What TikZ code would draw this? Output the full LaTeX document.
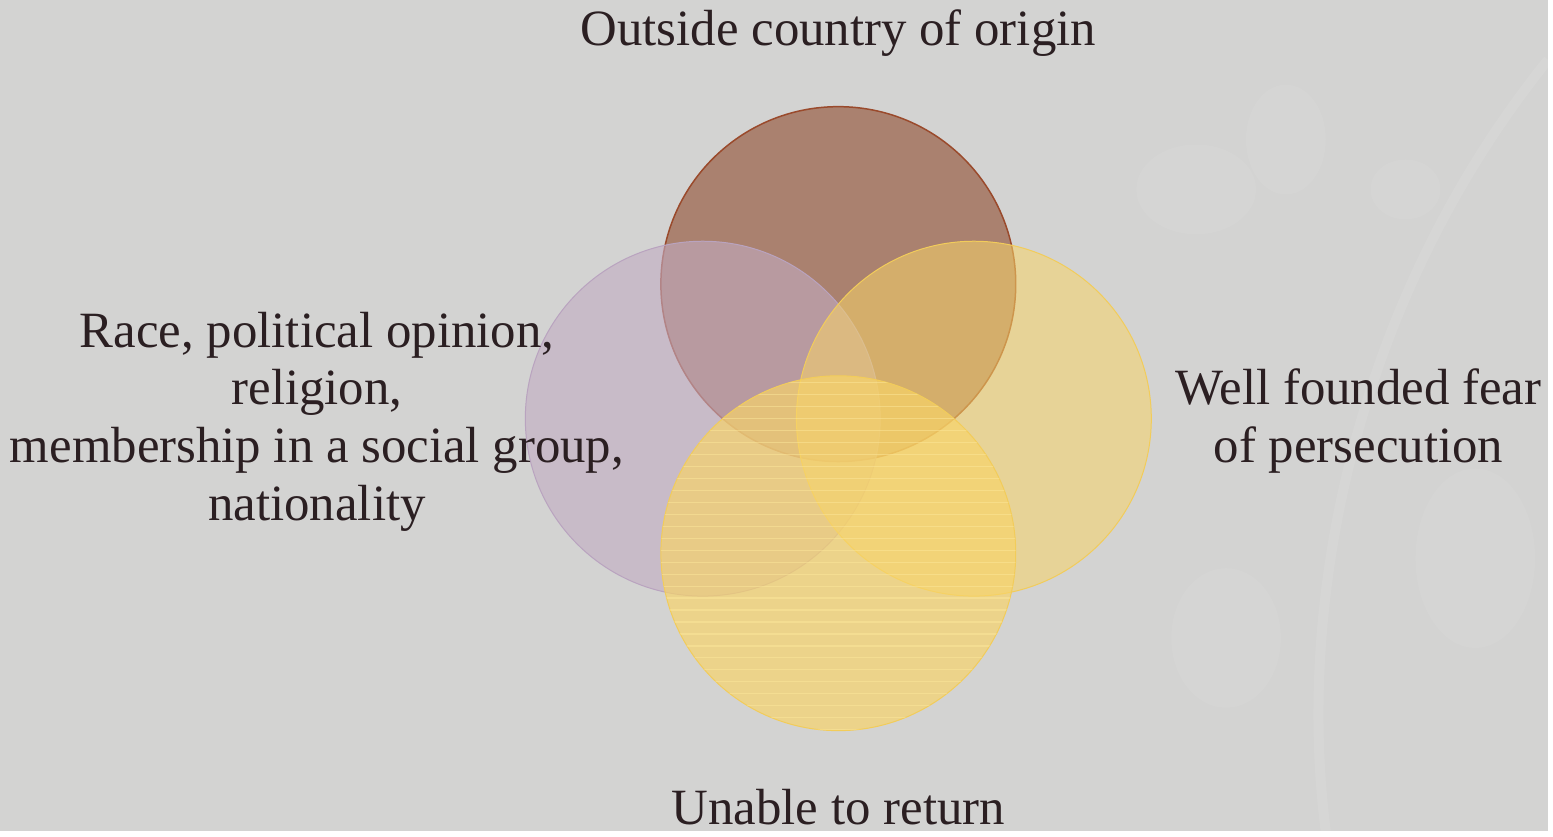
\documentclass[tikz,border=0pt]{standalone}
\usepackage{fontspec}
\setmainfont{Liberation Serif}
\usetikzlibrary{calc}
\definecolor{canvas}{HTML}{D3D3D2}
\definecolor{inkbrown}{HTML}{2B1F22}
\definecolor{rustfill}{HTML}{A26F5A}
\definecolor{rustline}{HTML}{9A4A2C}
\definecolor{lilacfill}{HTML}{C2ABC2}
\definecolor{lilacline}{HTML}{B9A3BF}
\definecolor{goldfill}{HTML}{F8D468}
\definecolor{goldline}{HTML}{F2CC5A}
\definecolor{goldstripe}{HTML}{FCE79A}
\def\vennring[#1](#2)#3{\filldraw[#1] (#2) circle (#3);}

\begin{document}
\begin{tikzpicture}[x=0.01cm, y=-0.01cm,
	ringtext/.style={font=\fontsize{14.5}{16.5}\selectfont, text=inkbrown, align=center, inner sep=0pt}]
		%%%%% START %%%%%
		
		\fill[canvas] (0, 0) rectangle (1553, 834);
		
		% faint plant behind, right side
		\draw[white, opacity=0.08, line width=1mm] (1330, 834) .. controls (1300, 600) and (1360, 300) .. (1553, 60);
		\fill[white, opacity=0.06] (1200, 190) ellipse (60 and 45);
		\fill[white, opacity=0.06] (1290, 140) ellipse (40 and 55);
		\fill[white, opacity=0.06] (1410, 190) ellipse (35 and 30);
		\fill[white, opacity=0.05] (1230, 640) ellipse (55 and 70);
		\fill[white, opacity=0.05] (1480, 560) ellipse (60 and 90);
		
		\vennring[rustfill, draw=rustline, fill opacity=0.82, line width=0.15mm](841, 285){178}
		\coordinate (origin) at (841, 285);
		\vennring[lilacfill, draw=lilacline, fill opacity=0.6, line width=0.1mm](705, 420){178}
		\coordinate (grounds) at (705, 420);
		\vennring[goldfill, draw=goldline, fill opacity=0.55, line width=0.1mm](977, 420){178}
		\coordinate (fear) at (977, 420);
		\vennring[goldfill, draw=goldline, fill opacity=0.68, line width=0.1mm](841, 555){178}
		\coordinate (return) at (841, 555);
		
		\begin{scope}
			\clip (return) circle (178);
			\foreach \y in {384, 396, ..., 735}
				\draw[goldstripe, opacity=0.5, line width=0.12mm] (660, \y) -- (1022, \y);
		\end{scope}
		
		\node[ringtext] (originText) at (841, 33) {Outside country of origin};
		\node[ringtext] (groundsText) at (318, 423) {Race, political opinion,\\religion,\\membership in a social group,\\nationality};
		\node[ringtext] (fearText) at (1363, 422) {Well founded fear\\of persecution};
		\node[ringtext] (returnText) at (841, 810) {Unable to return};
		
		%%%%% END %%%%%
	\end{tikzpicture}
\end{document}
